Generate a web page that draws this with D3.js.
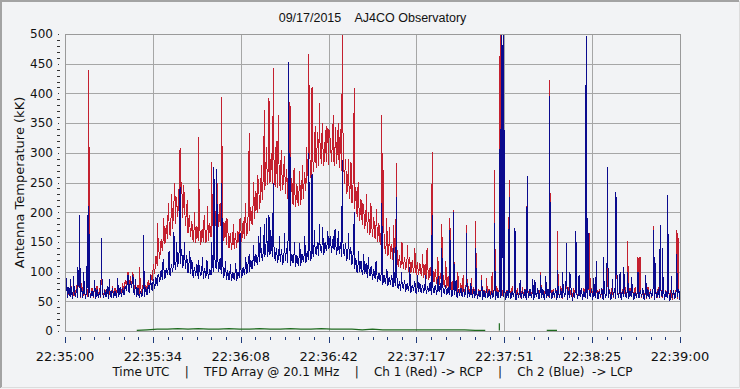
<!DOCTYPE html>
<html>
<head>
<meta charset="utf-8">
<script src="https://cdn.jsdelivr.net/npm/d3@7"></script>
<style>
  html, body { margin: 0; padding: 0; background: #f2f3f5; }
  svg { display: block; }
</style>
</head>
<body>
<div id="chart"></div>
<script>
// ---- data (seconds after 22:35:00 UTC) ----
const chartTitle = '09/17/2015    AJ4CO Observatory';
const yTitle = 'Antenna Temperature (kK)';
const footer = 'Time UTC    |    TFD Array @ 20.1 MHz    |    Ch 1 (Red) -> RCP    |    Ch 2 (Blue)  -> LCP';
const startTime = '22:35:00';
const spanSeconds = 240;
const yTicks = [0, 50, 100, 150, 200, 250, 300, 350, 400, 450, 500];

// Ch 1 (red, RCP): low / high of the noise band in each second
const redLo = [
  58, 56, 60, 55, 57, 59, 56, 58, 55, 57,
  58, 56, 59, 57, 55, 58, 60, 57, 56, 58,
  60, 58, 62, 66, 74, 70, 78, 64, 60, 58,
  62, 60, 66, 72, 84, 96, 110, 122, 134, 146,
  155, 160, 172, 180, 192, 205, 190, 176, 165, 158,
  150, 148, 152, 145, 150, 148, 152, 158, 165, 172,
  175, 165, 152, 145, 140, 136, 138, 140, 145, 150,
  155, 160, 168, 178, 188, 198, 205, 220, 238, 245,
  250, 248, 242, 240, 235, 238, 230, 222, 218, 212,
  208, 210, 212, 222, 235, 250, 258, 268, 275, 278,
  282, 278, 285, 280, 285, 278, 282, 275, 270, 248,
  230, 222, 215, 205, 192, 185, 178, 172, 165, 162,
  158, 155, 150, 145, 135, 130, 126, 122, 120, 116,
  108, 106, 104, 102, 100, 98, 97, 95, 94, 92,
  90, 88, 86, 84, 82, 80, 78, 76, 74, 72,
  68, 66, 64, 63, 62, 60, 60, 59, 58, 58,
  57, 55, 58, 56, 57, 55, 58, 56, 59, 57,
  56, 58, 55, 57, 56, 58, 54, 57, 55, 58,
  55, 57, 56, 54, 58, 55, 57, 56, 58, 55,
  57, 55, 58, 56, 54, 57, 55, 58, 56, 57,
  55, 58, 56, 57, 54, 58, 55, 57, 56, 55,
  58, 56, 55, 57, 56, 54, 58, 55, 57, 56,
  54, 57, 55, 58, 56, 55, 57, 54, 58, 56,
  57, 55, 58, 56, 53, 57, 55, 52, 56, 54,
  55
];
const redHi = [
  72, 68, 75, 70, 78, 72, 80, 70, 74, 69,
  73, 70, 76, 72, 78, 71, 74, 69, 75, 72,
  76, 74, 80, 86, 98, 92, 100, 84, 78, 74,
  80, 78, 86, 96, 112, 126, 140, 154, 168, 178,
  190, 200, 215, 225, 240, 250, 232, 210, 196, 185,
  180, 176, 182, 172, 178, 175, 182, 190, 205, 215,
  215, 200, 185, 172, 165, 160, 165, 168, 180, 185,
  190, 198, 208, 222, 235, 248, 258, 275, 290, 295,
  300, 295, 285, 282, 278, 285, 272, 262, 258, 252,
  248, 250, 255, 268, 282, 298, 305, 315, 322, 318,
  325, 320, 330, 322, 335, 320, 328, 318, 330, 290,
  268, 260, 255, 242, 228, 222, 212, 205, 200, 195,
  192, 188, 182, 176, 162, 155, 150, 146, 150, 140,
  128, 126, 125, 122, 124, 120, 118, 116, 115, 114,
  112, 110, 108, 106, 104, 100, 98, 95, 94, 92,
  90, 88, 84, 82, 80, 78, 78, 76, 75, 74,
  72, 70, 74, 69, 73, 71, 75, 70, 76, 72,
  70, 74, 69, 72, 75, 70, 73, 68, 74, 71,
  73, 70, 74, 69, 72, 75, 70, 73, 68, 74,
  70, 73, 71, 75, 69, 72, 74, 70, 73, 71,
  74, 70, 72, 75, 69, 73, 71, 74, 70, 72,
  69, 73, 70, 74, 71, 68, 73, 70, 75, 71,
  72, 70, 74, 69, 73, 71, 68, 74, 70, 72,
  70, 74, 71, 73, 69, 72, 70, 68, 71, 69,
  66
];

// Ch 2 (blue, LCP): low / high of the noise band in each second
const blueLo = [
  56, 55, 58, 54, 57, 55, 58, 56, 54, 57,
  55, 57, 54, 56, 58, 55, 57, 54, 56, 55,
  56, 58, 57, 60, 68, 64, 72, 60, 57, 55,
  57, 58, 60, 64, 68, 70, 76, 82, 86, 88,
  94, 92, 100, 102, 108, 112, 106, 104, 98, 96,
  90, 92, 88, 92, 88, 90, 88, 94, 100, 104,
  100, 96, 90, 86, 86, 84, 86, 84, 90, 90,
  94, 96, 100, 104, 110, 112, 116, 118, 125, 124,
  128, 124, 118, 114, 116, 112, 118, 114, 110, 114,
  108, 110, 110, 116, 114, 120, 118, 124, 128, 126,
  132, 128, 134, 138, 132, 136, 128, 130, 124, 126,
  118, 120, 112, 104, 98, 100, 94, 96, 90, 92,
  86, 88, 82, 84, 78, 80, 76, 78, 74, 76,
  70, 68, 70, 66, 68, 64, 68, 63, 66, 64,
  64, 62, 65, 60, 64, 61, 65, 58, 62, 60,
  60, 58, 61, 56, 59, 57, 58, 55, 58, 56,
  56, 54, 57, 53, 56, 55, 54, 56, 53, 55,
  55, 57, 53, 56, 54, 57, 52, 56, 54, 55,
  53, 56, 55, 52, 57, 54, 56, 53, 56, 55,
  54, 57, 52, 56, 55, 57, 53, 55, 51, 56,
  54, 57, 53, 56, 54, 57, 52, 55, 54, 57,
  53, 56, 55, 52, 57, 54, 56, 53, 57, 55,
  54, 57, 52, 56, 55, 58, 53, 55, 54, 57,
  52, 56, 55, 58, 53, 56, 50, 55, 54, 57,
  53
];
const blueHi = [
  70, 74, 68, 76, 70, 73, 72, 78, 70, 72,
  68, 74, 70, 66, 72, 69, 75, 70, 72, 68,
  70, 74, 72, 76, 90, 84, 94, 76, 72, 68,
  72, 74, 78, 82, 88, 90, 96, 102, 108, 106,
  114, 112, 122, 125, 132, 138, 130, 128, 118, 120,
  108, 112, 104, 110, 106, 108, 104, 112, 120, 128,
  122, 116, 108, 102, 104, 100, 102, 100, 110, 108,
  114, 116, 120, 124, 130, 132, 138, 140, 150, 145,
  150, 146, 140, 134, 138, 132, 140, 134, 130, 134,
  128, 130, 130, 136, 134, 140, 138, 144, 150, 146,
  152, 150, 155, 160, 152, 156, 148, 150, 144, 148,
  140, 142, 132, 122, 116, 118, 110, 114, 108, 110,
  104, 106, 98, 100, 94, 96, 90, 94, 88, 92,
  84, 82, 86, 80, 82, 78, 84, 76, 80, 78,
  80, 76, 82, 74, 78, 76, 80, 72, 78, 74,
  74, 72, 76, 70, 73, 71, 74, 69, 72, 70,
  70, 68, 72, 67, 70, 69, 68, 71, 67, 70,
  69, 72, 67, 70, 68, 72, 66, 71, 68, 70,
  68, 71, 69, 66, 72, 68, 70, 67, 71, 69,
  68, 72, 66, 70, 69, 71, 67, 70, 65, 71,
  68, 72, 67, 70, 68, 71, 66, 70, 68, 72,
  67, 70, 69, 66, 72, 68, 70, 67, 71, 69,
  68, 71, 66, 70, 69, 72, 67, 70, 68, 71,
  66, 70, 69, 72, 67, 70, 64, 69, 68, 71,
  64
];

// bursts: [seconds, kK]
const redSpikes = [
  [0.6, 85], [5.0, 95], [5.6, 110], [9.3, 439], [14.2, 130], [24.6, 100], [29.0, 107],
  [30.6, 100], [36.0, 182], [42.9, 249], [44.9, 308], [52.0, 327], [57.2, 284], [58.1, 230],
  [59.2, 272], [61.1, 394], [68.3, 190], [71.9, 333], [77.8, 372], [79.6, 392], [81.3, 442],
  [83.2, 363], [87.8, 386], [95.1, 466], [96.4, 410], [99.3, 383], [101.5, 338], [103.0, 340],
  [104.7, 363], [105.6, 343], [108.2, 520], [112.9, 409], [116.2, 215], [123.6, 364],
  [124.0, 300], [128.0, 178], [129.4, 283], [143.3, 301], [147.0, 180], [150.2, 190],
  [151.5, 204], [156.5, 178], [160.3, 186], [166.7, 100], [167.5, 271], [169.8, 520],
  [173.4, 254], [175.6, 150], [180.4, 261], [183.4, 85], [185.5, 100], [189.0, 423],
  [192.1, 168], [194.0, 100], [195.6, 120], [199.4, 150], [203.4, 260], [204.0, 190],
  [204.6, 165], [211.6, 140], [215.0, 190], [219.5, 152], [223.6, 125], [224.4, 125],
  [229.6, 177], [232.3, 150], [238.7, 170], [239.2, 165],
  // smaller flickers riding on the band
  [38.5, 190], [40.3, 215], [41.6, 230], [46.2, 245], [47.8, 220], [50.5, 200], [54.3, 195],
  [55.6, 210], [63.2, 190], [65.7, 180], [70.4, 215], [73.6, 250], [75.2, 262], [76.5, 280],
  [78.6, 310], [82.4, 320], [84.4, 305], [85.7, 295], [89.4, 275], [91.5, 270], [92.6, 280],
  [94.3, 310], [97.6, 345], [98.5, 335], [100.4, 350], [102.2, 345], [106.6, 350], [107.4, 340],
  [110.5, 290], [111.6, 285], [114.4, 250], [117.5, 230], [119.4, 215], [121.5, 205],
  [125.5, 190], [126.6, 175], [131.5, 150], [133.7, 145], [136.5, 140], [139.5, 130],
  [141.3, 140], [145.5, 125], [148.6, 118], [153.3, 100], [155.4, 95], [158.6, 90],
  [162.5, 95], [164.5, 90]
];

const blueSpikes = [
  [0.6, 90], [2.0, 88], [5.0, 108], [5.6, 195], [8.8, 195], [9.3, 210], [14.2, 157],
  [24.6, 95], [30.6, 161], [36.0, 90], [42.5, 166], [44.9, 242], [52.0, 120], [57.2, 150],
  [58.1, 276], [59.2, 272], [61.1, 249], [68.3, 165], [71.9, 130], [77.8, 180], [79.6, 195],
  [80.3, 170], [81.3, 249], [87.3, 453], [87.8, 300], [95.1, 300], [96.4, 265], [99.3, 180],
  [104.7, 160], [108.2, 288], [112.9, 200], [123.6, 215], [128.0, 140], [129.4, 226],
  [143.3, 195], [147.0, 140], [150.2, 170], [151.5, 200], [156.5, 165], [160.3, 140],
  [167.5, 182], [169.8, 340], [170.5, 520], [171.2, 520], [173.4, 226], [175.6, 174],
  [180.4, 261], [183.4, 85], [185.5, 95], [189.0, 395], [192.1, 102], [194.0, 100],
  [195.6, 148], [197.0, 100], [199.4, 168], [203.4, 497], [204.0, 190], [207.4, 118],
  [210.0, 125], [211.6, 276], [215.0, 234], [218.0, 107], [219.5, 100], [221.0, 90],
  [223.6, 100], [229.6, 170], [230.2, 125], [232.3, 178], [233.0, 140], [235.2, 229],
  [238.7, 130],
  // smaller flickers riding on the band
  [3.4, 92], [7.2, 100], [11.5, 85], [17.3, 88], [20.5, 90], [27.5, 88], [33.4, 95],
  [38.3, 122], [40.6, 135], [43.5, 150], [46.5, 150], [48.7, 135], [53.6, 125], [55.4, 120],
  [62.6, 118], [64.5, 112], [66.6, 115], [70.5, 125], [73.5, 145], [75.6, 160], [76.4, 175],
  [78.6, 190], [83.6, 160], [85.5, 165], [89.5, 150], [91.6, 148], [93.5, 160], [97.4, 170],
  [100.5, 175], [102.5, 168], [105.4, 172], [106.6, 168], [110.6, 165], [114.5, 135],
  [116.5, 130], [118.4, 125], [121.4, 118], [125.6, 105], [131.4, 100], [134.5, 108],
  [137.6, 95], [140.5, 95], [145.6, 92], [152.6, 85], [158.4, 80], [162.6, 85], [177.6, 85],
  [182.5, 88], [187.6, 92], [200.6, 95], [206.4, 90], [213.5, 88], [216.6, 100], [226.6, 95],
  [236.5, 92]
];

// Ch 3 (green) one reading every 4 s, null = no trace
const greenBase = [
  null, null, null, null, null, 1, null, 1,
  2, 3, 3, 4, 3, 4, 3, 3, 4, 3, 3, 4, 3, 3, 4, 3, 3, 4, 3, 3, 3, 2,
  3, 2, 2, 2, 2, 2, 2, 2, 2, 2, 1, 1, null,
  null, null, null, null, 1, 1, null, null, null, null, null, null, null, null, null, null, null, null
];
const greenSpikes = [[169.5, 1], [169.5, 13]];

// ---- layout ----
const W = 740, H = 389;
const plot = { left: 65, right: 680, top: 34, bottom: 331 };

const svg = d3.select('#chart').append('svg')
  .attr('width', W).attr('height', H)
  .style('font-family', '"DejaVu Sans", Verdana, sans-serif');

svg.append('rect').attr('width', W).attr('height', H).attr('fill', '#f2f3f5');
// sunken frame
svg.append('path').attr('d', `M1,${H - 1}V1H${W - 1}`).attr('fill', 'none')
  .attr('stroke', '#a3a3a3').attr('stroke-width', 2);
svg.append('path').attr('d', `M1,${H - 1.5}H${W - 0.5}V1`).attr('fill', 'none')
  .attr('stroke', '#dcdcdc').attr('stroke-width', 1);

const x = d3.scaleLinear().domain([0, spanSeconds]).range([plot.left, plot.right]);
const y = d3.scaleLinear().domain([0, 500]).range([plot.bottom, plot.top]);

const majorX = d3.range(8).map(i => i * spanSeconds / 7);
const minorX = d3.range(43).map(i => i * spanSeconds / 42);
const minorY = d3.range(0, 501, 10);

const t0 = startTime.split(':').map(Number);
const fmtTime = s => {
  const tot = t0[0] * 3600 + t0[1] * 60 + t0[2] + Math.floor(s + 1e-6);
  const p = n => String(n).padStart(2, '0');
  return `${p(Math.floor(tot / 3600) % 24)}:${p(Math.floor(tot / 60) % 60)}:${p(tot % 60)}`;
};

// grid
const grid = svg.append('g').attr('shape-rendering', 'crispEdges').attr('stroke', '#a6a6a6');
grid.selectAll('.hg').data(yTicks.slice(1, -1)).join('line')
  .attr('x1', plot.left).attr('x2', plot.right)
  .attr('y1', d => Math.round(y(d)) + 0.5).attr('y2', d => Math.round(y(d)) + 0.5);
grid.selectAll('.vg').data(majorX.slice(1, -1)).join('line')
  .attr('y1', plot.top).attr('y2', plot.bottom)
  .attr('x1', d => Math.round(x(d)) + 0.5).attr('x2', d => Math.round(x(d)) + 0.5);

// y axis ticks (detached from frame)
svg.append('g').attr('shape-rendering', 'crispEdges').selectAll('line').data(minorY).join('line')
  .attr('x1', d => d % 50 === 0 ? 58 : 57).attr('x2', d => d % 50 === 0 ? 59 : 60)
  .attr('y1', d => Math.round(y(d)) + 0.5).attr('y2', d => Math.round(y(d)) + 0.5)
  .attr('stroke', '#333');
svg.append('g').selectAll('text').data(yTicks).join('text')
  .attr('x', 53).attr('y', d => y(d)).attr('dy', '0.36em')
  .attr('text-anchor', 'end').attr('font-size', 12).attr('fill', '#111')
  .text(d => d);

// x axis ticks
svg.append('g').attr('shape-rendering', 'crispEdges').selectAll('line').data(minorX).join('line')
  .attr('x1', d => Math.round(x(d)) + 0.5).attr('x2', d => Math.round(x(d)) + 0.5)
  .attr('y1', 337).attr('y2', (d, i) => i % 6 === 0 ? 343 : 340)
  .attr('stroke', '#1f3a7a');
svg.append('g').selectAll('text').data(majorX).join('text')
  .attr('x', d => x(d)).attr('y', 361)
  .attr('text-anchor', 'middle').attr('font-size', 13).attr('fill', '#111')
  .text(fmtTime);

// series
svg.append('clipPath').attr('id', 'plotClip').append('rect')
  .attr('x', plot.left).attr('y', plot.top)
  .attr('width', plot.right - plot.left).attr('height', plot.bottom - plot.top);

// low reading at the start of each second, high reading half a second later
const band = (lo, hi) => lo.flatMap((v, i) => [[i, v], [i + 0.5, hi[i]]]);
const merge = (pts, spikes) => pts.concat(spikes).sort((a, b) => a[0] - b[0]);

const line = d3.line().defined(d => d[1] != null).x(d => x(d[0])).y(d => y(d[1]));
const series = svg.append('g').attr('clip-path', 'url(#plotClip)');

series.append('path').datum(merge(band(redLo, redHi), redSpikes))
  .attr('shape-rendering', 'crispEdges')
  .attr('d', line).attr('fill', 'none').attr('stroke', '#c4202f').attr('stroke-width', 1);
series.append('path').datum(merge(band(blueLo, blueHi), blueSpikes))
  .attr('shape-rendering', 'crispEdges')
  .attr('d', line).attr('fill', 'none').attr('stroke', '#0b0b8e').attr('stroke-width', 1);
series.append('path').datum(merge(greenBase.map((v, i) => [i * 4, v]), greenSpikes))
  .attr('d', line).attr('fill', 'none').attr('stroke', '#1f6b1f').attr('stroke-width', 1.2);

// frame
svg.append('rect').attr('shape-rendering', 'crispEdges')
  .attr('x', plot.left + 0.5).attr('y', plot.top + 0.5)
  .attr('width', plot.right - plot.left).attr('height', plot.bottom - plot.top)
  .attr('fill', 'none').attr('stroke', '#9a9a9a');

// titles
svg.append('text').attr('x', (plot.left + plot.right) / 2).attr('y', 22)
  .attr('text-anchor', 'middle').attr('font-family', '"Liberation Sans", Arial, sans-serif')
  .attr('font-size', 12.5).attr('fill', '#111').style('white-space', 'pre')
  .text(chartTitle);
svg.append('text')
  .attr('transform', `translate(24,${(plot.top + plot.bottom) / 2}) rotate(-90)`)
  .attr('text-anchor', 'middle').attr('font-size', 13).attr('fill', '#111')
  .text(yTitle);
svg.append('text').attr('x', (plot.left + plot.right) / 2).attr('y', 376)
  .attr('text-anchor', 'middle').attr('font-size', 12).attr('fill', '#111')
  .style('white-space', 'pre')
  .text(footer);
</script>
</body>
</html>
